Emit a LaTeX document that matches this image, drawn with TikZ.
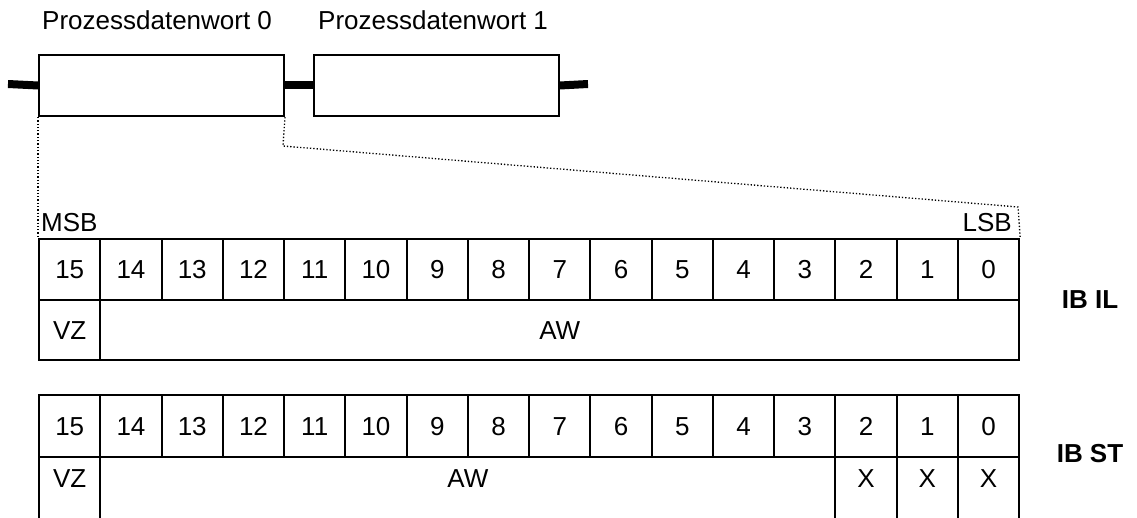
\documentclass[tikz,border=0pt]{standalone}
\usepackage{fontspec}
\setmainfont{Liberation Sans}
\begin{document}
\begin{tikzpicture}[x=1pt,y=-1pt,
  word/.style={draw, line width=2pt, minimum width=245pt, minimum height=61pt, inner sep=0pt, anchor=north west, fill=white},
  bus/.style={line width=8pt},
  cell/.style={draw, line width=2.2pt, minimum width=61.25pt, minimum height=61pt, inner sep=0pt, anchor=north west, text height=18.6pt, text depth=0pt, font=\fontsize{26}{26}\selectfont},
  lowcell/.style={cell, minimum height=64pt, text height=18.6pt, text depth=21.6pt},
  lbl/.style={font=\fontsize{26}{26}\selectfont, inner sep=0pt, anchor=base west},
  sig/.style={font=\fontsize{26}{26}\selectfont, inner sep=0pt},
  tag/.style={font=\bfseries\fontsize{26}{26}\selectfont, inner sep=0pt, anchor=center},
  zoomline/.style={dotted, line width=1.3pt}]
\useasboundingbox (0,0) rectangle (1137,518);

% process data words
\coordinate (busL) at (8,84);
\coordinate (busR) at (588,84);
\node[word] (w0) at (38,54) {};
\node[word] (w1) at (313,54) {};
\draw[bus] (busL) -- (w0.west);
\draw[bus] (w0.east) -- (w1.west);
\draw[bus] (w1.east) -- (busR);
\node[lbl] (l0) at (42,30) {Prozessdatenwort 0};
\node[lbl] (l1) at (318,30) {Prozessdatenwort 1};

% table IB IL
\foreach \i in {0,...,15} {
  \pgfmathtruncatemacro{\b}{15-\i}
  \node[cell] (a\b) at (38+61.25*\i,238) {\b};
}
\node[cell, minimum height=60pt] (avz) at (38,299) {VZ};
\node[cell, minimum height=60pt, minimum width=918.75pt] (aaw) at (99.25,299) {AW};
\node[sig, anchor=base west] (msb) at (41,232) {MSB};
\node[sig, anchor=base east] (lsb) at (1012,232) {LSB};
\node[tag] (ibil) at (1090,300) {IB IL};

% zoom lines
\coordinate (bend) at (283,146);
\coordinate (slant) at (1018,207);
\draw[zoomline] (w0.south west) -- (a15.north west);
\draw[zoomline] (w0.south east) -- (bend) -- (slant) -- (a0.north east);

% table IB ST
\foreach \i in {0,...,15} {
  \pgfmathtruncatemacro{\b}{15-\i}
  \node[cell, minimum height=62pt] (s\b) at (38+61.25*\i,394) {\b};
}
\node[lowcell] (svz) at (38,456) {VZ};
\node[lowcell, minimum width=735pt] (saw) at (99.25,456) {AW};
\node[lowcell] (sx2) at (834.25,456) {X};
\node[lowcell] (sx1) at (895.5,456) {X};
\node[lowcell] (sx0) at (956.75,456) {X};
\node[tag] (ibst) at (1090,454) {IB ST};
\end{tikzpicture}
\end{document}
